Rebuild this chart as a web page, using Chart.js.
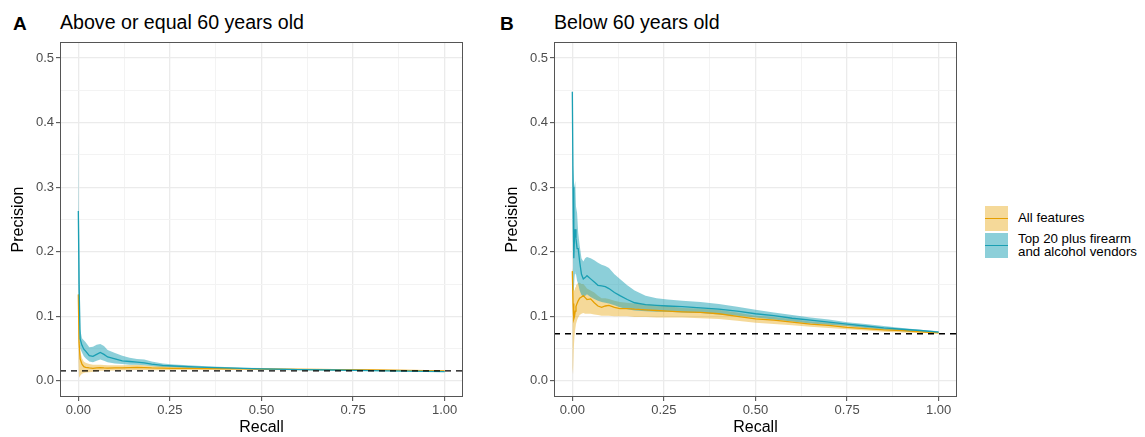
<!DOCTYPE html>
<html><head><meta charset="utf-8">
<script src="https://cdn.jsdelivr.net/npm/chart.js@4"></script>
<style>
html,body{margin:0;padding:0;background:#fff;width:1145px;height:437px;overflow:hidden;font-family:"Liberation Sans",Arial,Helvetica,sans-serif;}
canvas{position:absolute;top:0;}
.tag{position:absolute;font-weight:bold;font-size:19px;line-height:1;color:#000;}
.ttl{position:absolute;font-size:19.6px;line-height:1;color:#000;white-space:nowrap;}
.key{position:absolute;left:985px;width:23px;}
.key i{position:absolute;left:0;right:0;top:50%;height:1.4px;margin-top:-0.7px;}
.lab{position:absolute;left:1018px;font-size:13.3px;line-height:12.5px;color:#000;white-space:nowrap;}
</style></head>
<body>
<div class="tag" style="left:13px;top:14px;">A</div>
<div class="ttl" style="left:60px;top:12.5px;">Above or equal 60 years old</div>
<div class="tag" style="left:500px;top:14px;">B</div>
<div class="ttl" style="left:554px;top:12.5px;">Below 60 years old</div>
<canvas id="cA" width="470" height="437" style="left:0px;"></canvas>
<canvas id="cB" width="470" height="437" style="left:494px;"></canvas>
<div class="key" style="top:206px;height:25px;background:rgba(230,159,0,0.4);"><i style="background:#E69F00"></i></div>
<div class="key" style="top:233px;height:25px;background:rgba(26,159,179,0.5);"><i style="background:#1A9FB3"></i></div>
<div class="lab" style="top:212px;">All features</div>
<div class="lab" style="top:233px;">Top 20 plus firearm<br>and alcohol vendors</div>
<script>
// ---------- tick labels ----------
const xTicks = [0, 0.25, 0.5, 0.75, 1.0];
const xMinor = [0.125, 0.375, 0.625, 0.875];
const yTicks = [0, 0.1, 0.2, 0.3, 0.4, 0.5];
const yMinor = [0.05, 0.15, 0.25, 0.35, 0.45];

// ---------- Panel A: Above or equal 60 years old ----------
const recallA = [0, 0.002, 0.005, 0.01, 0.015, 0.02, 0.03, 0.04, 0.05, 0.06, 0.07, 0.08, 0.1, 0.12, 0.14, 0.16, 0.18, 0.2, 0.23, 0.26, 0.3, 0.35, 0.4, 0.45, 0.5, 0.6, 0.7, 0.8, 0.9, 1.0];
const topA   = [0.263, 0.15, 0.065, 0.055, 0.049, 0.046, 0.039, 0.038, 0.041, 0.044, 0.041, 0.037, 0.034, 0.031, 0.030, 0.029, 0.028, 0.026, 0.024, 0.023, 0.022, 0.021, 0.020, 0.0195, 0.0185, 0.0175, 0.0168, 0.016, 0.015, 0.0142];
const topA_hi = [0.39, 0.25, 0.08, 0.066, 0.063, 0.06, 0.052, 0.053, 0.056, 0.057, 0.054, 0.048, 0.043, 0.039, 0.036, 0.034, 0.033, 0.030, 0.027, 0.0255, 0.024, 0.0225, 0.0215, 0.0205, 0.0198, 0.0185, 0.0176, 0.0167, 0.0157, 0.0148];
const topA_lo = [0.14, 0.08, 0.05, 0.044, 0.038, 0.035, 0.03, 0.029, 0.031, 0.033, 0.031, 0.029, 0.027, 0.026, 0.025, 0.025, 0.024, 0.023, 0.0215, 0.021, 0.020, 0.0195, 0.0188, 0.0183, 0.0175, 0.0167, 0.016, 0.0153, 0.0145, 0.0137];
const allA   = [0.134, 0.06, 0.034, 0.026, 0.022, 0.021, 0.020, 0.0195, 0.020, 0.0205, 0.020, 0.0198, 0.020, 0.0202, 0.0205, 0.021, 0.0205, 0.020, 0.0198, 0.0195, 0.0192, 0.019, 0.0188, 0.0185, 0.0182, 0.0178, 0.0173, 0.0168, 0.0162, 0.0155];
const allA_hi = [0.134, 0.07, 0.045, 0.035, 0.03, 0.028, 0.026, 0.025, 0.025, 0.025, 0.0245, 0.024, 0.024, 0.0242, 0.0245, 0.025, 0.0243, 0.0235, 0.023, 0.0223, 0.0215, 0.021, 0.0205, 0.020, 0.0196, 0.019, 0.0183, 0.0177, 0.017, 0.0162];
const allA_lo = [0.03, 0.005, 0.008, 0.011, 0.012, 0.013, 0.0135, 0.014, 0.015, 0.0155, 0.0155, 0.0157, 0.016, 0.0163, 0.0166, 0.017, 0.0168, 0.0165, 0.0166, 0.0167, 0.0168, 0.017, 0.0171, 0.0171, 0.0169, 0.0166, 0.0163, 0.0159, 0.0154, 0.0148];
const baselineA = 0.0155;

// ---------- Panel B: Below 60 years old ----------
const recallB = [0, 0.002, 0.004, 0.006, 0.008, 0.01, 0.013, 0.016, 0.02, 0.025, 0.03, 0.035, 0.04, 0.05, 0.06, 0.07, 0.08, 0.09, 0.1, 0.115, 0.13, 0.15, 0.17, 0.2, 0.23, 0.26, 0.3, 0.35, 0.4, 0.45, 0.5, 0.55, 0.6, 0.65, 0.7, 0.75, 0.8, 0.85, 0.9, 0.95, 1.0];
const topB   = [0.448, 0.30, 0.19, 0.225, 0.235, 0.22, 0.205, 0.205, 0.185, 0.165, 0.158, 0.16, 0.163, 0.158, 0.153, 0.148, 0.147, 0.146, 0.143, 0.137, 0.132, 0.126, 0.121, 0.118, 0.117, 0.116, 0.115, 0.113, 0.111, 0.108, 0.104, 0.101, 0.097, 0.094, 0.091, 0.088, 0.085, 0.082, 0.080, 0.078, 0.0755];
const topB_hi = [0.448, 0.33, 0.31, 0.30, 0.31, 0.27, 0.26, 0.23, 0.21, 0.19, 0.185, 0.19, 0.192, 0.19, 0.187, 0.183, 0.18, 0.178, 0.175, 0.165, 0.158, 0.148, 0.14, 0.132, 0.128, 0.126, 0.124, 0.122, 0.119, 0.115, 0.110, 0.106, 0.102, 0.098, 0.095, 0.091, 0.088, 0.085, 0.082, 0.079, 0.0768];
const topB_lo = [0.25, 0.18, 0.14, 0.16, 0.17, 0.165, 0.155, 0.15, 0.14, 0.133, 0.13, 0.132, 0.134, 0.13, 0.127, 0.124, 0.122, 0.121, 0.12, 0.117, 0.114, 0.111, 0.109, 0.108, 0.107, 0.107, 0.106, 0.105, 0.103, 0.101, 0.098, 0.095, 0.092, 0.089, 0.087, 0.085, 0.082, 0.079, 0.077, 0.076, 0.0742];
const allB   = [0.17, 0.12, 0.096, 0.10, 0.108, 0.115, 0.12, 0.124, 0.128, 0.13, 0.132, 0.129, 0.126, 0.127, 0.121, 0.116, 0.114, 0.116, 0.117, 0.114, 0.112, 0.112, 0.111, 0.11, 0.109, 0.108, 0.107, 0.106, 0.104, 0.100, 0.096, 0.094, 0.091, 0.088, 0.086, 0.083, 0.081, 0.079, 0.078, 0.076, 0.0745];
const allB_hi = [0.175, 0.17, 0.14, 0.14, 0.145, 0.148, 0.15, 0.152, 0.152, 0.15, 0.15, 0.147, 0.143, 0.14, 0.137, 0.132, 0.128, 0.128, 0.127, 0.124, 0.122, 0.121, 0.12, 0.119, 0.117, 0.116, 0.113, 0.112, 0.11, 0.106, 0.101, 0.099, 0.096, 0.092, 0.09, 0.087, 0.084, 0.082, 0.080, 0.078, 0.0758];
const allB_lo = [0.02, 0.01, 0.05, 0.07, 0.08, 0.088, 0.094, 0.098, 0.102, 0.104, 0.105, 0.104, 0.104, 0.104, 0.103, 0.102, 0.101, 0.101, 0.101, 0.1, 0.1, 0.1, 0.099, 0.099, 0.098, 0.098, 0.098, 0.097, 0.096, 0.093, 0.09, 0.088, 0.086, 0.084, 0.082, 0.08, 0.078, 0.076, 0.075, 0.074, 0.0732];
const baselineB = 0.0729;

// ---------- styling ----------
const ORANGE = '#E69F00', ORANGE_FILL = 'rgba(230,159,0,0.4)';
const TEAL = '#1A9FB3', TEAL_FILL = 'rgba(26,159,179,0.5)';
const FONT = '"Liberation Sans", Arial, Helvetica, sans-serif';

const pts = (xs, ys) => xs.map((x, i) => ({x: x, y: ys[i]}));

const panelBorder = {
  id: 'panelBorder',
  afterDraw(chart) {
    const {ctx, chartArea: a} = chart;
    ctx.save();
    ctx.strokeStyle = '#555';
    ctx.lineWidth = 1;
    ctx.strokeRect(Math.round(a.left) + 0.5, Math.round(a.top) + 0.5, Math.round(a.right - a.left) - 1, Math.round(a.bottom - a.top) - 1);
    ctx.restore();
  }
};

function isMinor(v, arr) { return arr.some(m => Math.abs(m - v) < 1e-9); }

function makeChart(id, recall, top, topHi, topLo, all, allHi, allLo, base) {
  const line = (data, color, order) => ({data, borderColor: color, borderWidth: 1.3, pointRadius: 0, fill: false, tension: 0, order});
  const band = (data, fill, order, toNext) => ({data, borderColor: 'rgba(0,0,0,0)', borderWidth: 0, backgroundColor: fill, pointRadius: 0, fill: toNext ? '+1' : false, tension: 0, order});
  return new Chart(document.getElementById(id), {
    type: 'line',
    data: {
      datasets: [
        line(pts(recall, top), TEAL, 0),
        line(pts(recall, all), ORANGE, 1),
        {data: [{x: -0.05, y: base}, {x: 1.05, y: base}], borderColor: '#000', borderWidth: 1.4, borderDash: [6, 5], pointRadius: 0, fill: false, order: -1},
        band(pts(recall, topHi), TEAL_FILL, 3, true),
        band(pts(recall, topLo), TEAL_FILL, 3, false),
        band(pts(recall, allHi), ORANGE_FILL, 4, true),
        band(pts(recall, allLo), ORANGE_FILL, 4, false)
      ]
    },
    options: {
      responsive: false, animation: false, devicePixelRatio: 1,
      layout: {padding: {top: 42, right: 7, left: 0, bottom: 0}},
      plugins: {legend: {display: false}, tooltip: {enabled: false}},
      scales: {
        x: {
          type: 'linear', min: -0.05, max: 1.05,
          afterBuildTicks: s => { s.ticks = xTicks.concat(xMinor).sort((a, b) => a - b).map(v => ({value: v})); },
          afterFit: s => { s.height = 40; },
          border: {display: false},
          grid: {
            color: c => isMinor(c.tick.value, xMinor) ? '#f3f3f3' : '#ebebeb',
            lineWidth: c => isMinor(c.tick.value, xMinor) ? 1 : 1.3,
            drawTicks: true, tickLength: 4,
            tickColor: c => isMinor(c.tick.value, xMinor) ? 'rgba(0,0,0,0)' : '#444',
            tickWidth: 1
          },
          ticks: {
            autoSkip: false, maxRotation: 0, padding: 2, color: '#4d4d4d',
            font: {family: FONT, size: 13},
            callback: v => isMinor(v, xMinor) ? '' : Number(v).toFixed(2)
          },
          title: {display: true, text: 'Recall', color: '#000', font: {family: FONT, size: 16, lineHeight: 1}, padding: {top: 0, bottom: 1}}
        },
        y: {
          type: 'linear', min: -0.025, max: 0.525,
          afterBuildTicks: s => { s.ticks = yTicks.concat(yMinor).sort((a, b) => a - b).map(v => ({value: v})); },
          afterFit: s => { s.width = 60; },
          border: {display: false},
          grid: {
            color: c => isMinor(c.tick.value, yMinor) ? '#f3f3f3' : '#ebebeb',
            lineWidth: c => isMinor(c.tick.value, yMinor) ? 1 : 1.3,
            drawTicks: true, tickLength: 4,
            tickColor: c => isMinor(c.tick.value, yMinor) ? 'rgba(0,0,0,0)' : '#444',
            tickWidth: 1
          },
          ticks: {
            autoSkip: false, padding: 2, color: '#4d4d4d',
            font: {family: FONT, size: 13},
            callback: v => isMinor(v, yMinor) ? '' : Number(v).toFixed(1)
          },
          title: {display: true, text: 'Precision', color: '#000', font: {family: FONT, size: 16, lineHeight: 1}, padding: {top: 11, bottom: 0}}
        }
      }
    },
    plugins: [panelBorder]
  });
}

makeChart('cA', recallA, topA, topA_hi, topA_lo, allA, allA_hi, allA_lo, baselineA);
makeChart('cB', recallB, topB, topB_hi, topB_lo, allB, allB_hi, allB_lo, baselineB);
</script>
</body></html>
